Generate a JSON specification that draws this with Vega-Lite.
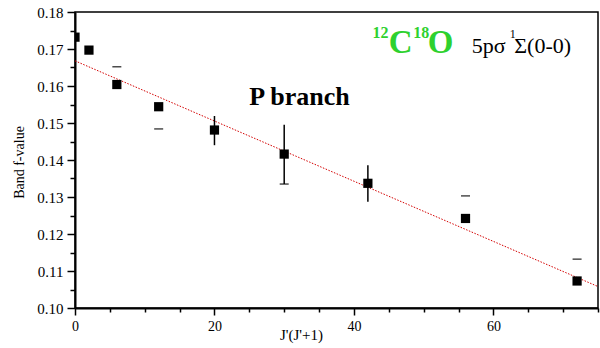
{
  "$schema": "https://vega.github.io/schema/vega-lite/v6.json",
  "width": 523,
  "height": 296,
  "autosize": "none",
  "padding": {"left": 75, "top": 12, "right": 2, "bottom": 40},
  "background": "white",
  "config": {
    "font": "Liberation Serif, Times New Roman, serif",
    "view": {"stroke": "black", "strokeWidth": 1.5},
    "axis": {"domainColor": "black", "domainWidth": 2, "tickColor": "black", "tickWidth": 1.5, "labelColor": "black", "titleColor": "black", "labelFont": "Liberation Serif, Times New Roman, serif", "titleFont": "Liberation Serif, Times New Roman, serif", "labelFontSize": 14, "titleFontSize": 14, "titleFontWeight": "normal", "grid": false, "labelOverlap": false}
  },
  "datasets": {
    "points": [
      {"j": 0, "f": 0.1732},
      {"j": 2, "f": 0.1697},
      {"j": 6, "f": 0.1604},
      {"j": 12, "f": 0.1544},
      {"j": 20, "f": 0.1481},
      {"j": 30, "f": 0.1416},
      {"j": 42, "f": 0.1337},
      {"j": 56, "f": 0.1242},
      {"j": 72, "f": 0.1073}
    ],
    "bars": [
      {"j": 20, "f": 0.144, "f2": 0.1519},
      {"j": 30, "f": 0.1335, "f2": 0.1495},
      {"j": 42, "f": 0.1287, "f2": 0.1386}
    ],
    "caps": [
      {"j": 6, "f": 0.1652},
      {"j": 12, "f": 0.1484},
      {"j": 30, "f": 0.1335},
      {"j": 56, "f": 0.1303},
      {"j": 72, "f": 0.1132}
    ],
    "fit": [
      {"j": 0, "f": 0.1668},
      {"j": 75, "f": 0.1058}
    ]
  },
  "encoding": {
    "x": {"field": "j", "type": "quantitative", "scale": {"domain": [0, 75], "nice": false, "zero": false},
      "axis": {"title": "J'(J'+1)", "values": [0,5,10,15,20,25,30,35,40,45,50,55,60,65,70,75],
        "labelExpr": "datum.value % 20 == 0 ? datum.label : ''",
        "tickSize": {"condition": {"test": "datum.value % 20 == 0", "value": 7}, "value": 4},
        "labelFontSize": 14, "labelPadding": 4, "labelFlush": false, "labelOverlap": false,
        "titleFontSize": 15, "titleX": 226, "titleY": 31, "titleAlign": "center", "titleBaseline": "alphabetic"}},
    "y": {"field": "f", "type": "quantitative", "scale": {"domain": [0.1, 0.18], "nice": false, "zero": false},
      "axis": {"title": "Band f-value",
        "values": [0.1,0.105,0.11,0.115,0.12,0.125,0.13,0.135,0.14,0.145,0.15,0.155,0.16,0.165,0.17,0.175,0.18],
        "labelExpr": "abs(datum.value*100 - round(datum.value*100)) < 0.1 ? format(datum.value, '.2f') : ''",
        "tickSize": {"condition": {"test": "abs(datum.value*100 - round(datum.value*100)) < 0.1", "value": 8}, "value": 5},
        "labelFontSize": 15, "labelPadding": 4, "labelOverlap": false, "labelFlush": false, "labelBound": false,
        "titleFontSize": 14, "titleX": -56, "titleY": 150, "titleAngle": -90, "titleAlign": "center", "titleBaseline": "middle"}}
  },
  "layer": [
    {
      "data": {"name": "fit"},
      "mark": {"type": "line", "color": "#d40000", "strokeWidth": 1, "strokeDash": [1.5, 1.5], "clip": true}
    },
    {
      "data": {"name": "bars"},
      "mark": {"type": "rule", "color": "black", "strokeWidth": 1.5},
      "encoding": {"y2": {"field": "f2"}}
    },
    {
      "data": {"name": "caps"},
      "mark": {"type": "tick", "orient": "horizontal", "color": "black", "size": 9, "thickness": 1.5}
    },
    {
      "data": {"name": "points"},
      "mark": {"type": "point", "shape": "square", "filled": true, "color": "black", "opacity": 1, "size": 85, "clip": true}
    },
    {
      "data": {"values": [{"j": 32.2, "f": 0.1549, "t": "P branch"}]},
      "mark": {"type": "text", "font": "Liberation Serif, Times New Roman, serif", "fontSize": 26, "fontWeight": "bold", "color": "black", "align": "center", "baseline": "alphabetic"},
      "encoding": {"text": {"field": "t"}}
    },
    {
      "data": {"values": [{"j": 45.0, "f": 0.1689, "t": "C"}, {"j": 50.6, "f": 0.1689, "t": "O"}]},
      "mark": {"type": "text", "font": "Liberation Serif, Times New Roman, serif", "fontSize": 33, "fontWeight": "bold", "color": "#2ed12e", "align": "left", "baseline": "alphabetic"},
      "encoding": {"text": {"field": "t"}}
    },
    {
      "data": {"values": [{"j": 42.65, "f": 0.173, "t": "12"}, {"j": 48.5, "f": 0.173, "t": "18"}]},
      "mark": {"type": "text", "font": "Liberation Serif, Times New Roman, serif", "fontSize": 16, "fontWeight": "bold", "color": "#2ed12e", "align": "left", "baseline": "alphabetic"},
      "encoding": {"text": {"field": "t"}}
    },
    {
      "data": {"values": [{"j": 56.9, "f": 0.1689, "t": "5pσ"}, {"j": 63.0, "f": 0.1689, "t": "Σ(0-0)"}]},
      "mark": {"type": "text", "font": "Liberation Serif, Times New Roman, serif", "fontSize": 22, "color": "black", "align": "left", "baseline": "alphabetic"},
      "encoding": {"text": {"field": "t"}}
    },
    {
      "data": {"values": [{"j": 62.35, "f": 0.1731, "t": "1"}]},
      "mark": {"type": "text", "font": "Liberation Serif, Times New Roman, serif", "fontSize": 12, "color": "black", "align": "left", "baseline": "alphabetic"},
      "encoding": {"text": {"field": "t"}}
    }
  ]
}
